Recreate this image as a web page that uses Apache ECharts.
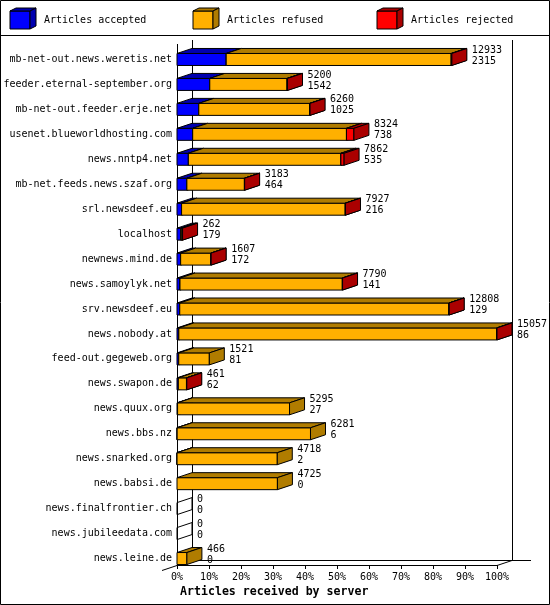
<!DOCTYPE html>
<html>
<head>
<meta charset="utf-8">
<script src="https://cdn.jsdelivr.net/npm/echarts@6/dist/echarts.min.js"></script>
<style>
html,body{margin:0;padding:0;background:#fff;}
#chart{width:550px;height:605px;}
</style>
</head>
<body>
<div id="chart"></div>
<script>
// ---- data ----
const categories = [
  'mb-net-out.news.weretis.net','feeder.eternal-september.org','mb-net-out.feeder.erje.net',
  'usenet.blueworldhosting.com','news.nntp4.net','mb-net.feeds.news.szaf.org','srl.newsdeef.eu',
  'localhost','newnews.mind.de','news.samoylyk.net','srv.newsdeef.eu','news.nobody.at',
  'feed-out.gegeweb.org','news.swapon.de','news.quux.org','news.bbs.nz','news.snarked.org',
  'news.babsi.de','news.finalfrontier.ch','news.jubileedata.com','news.leine.de'
];
const totals   = [12933,5200,6260,8324,7862,3183,7927,262,1607,7790,12808,15057,1521,461,5295,6281,4718,4725,0,0,466];
const accepted = [2315,1542,1025,738,535,464,216,179,172,141,129,86,81,62,27,6,2,0,0,0,0];
const refused  = [10588,3638,5220,7236,7177,2709,7701,60,1425,7639,12669,14961,1440,384,5268,6275,4716,4725,0,0,466];
const rejected = [30,20,15,350,150,10,10,23,10,10,10,10,0,15,0,0,0,0,0,0,0];
const seriesNames = ['Articles accepted','Articles refused','Articles rejected'];
const xTicks = [0,10,20,30,40,50,60,70,80,90,100];
const axisTitle = 'Articles received by server';

// ---- style ----
const frontColors = ['#0000ff','#ffb000','#ff0000'];
const darkColors  = ['#0000b0','#b07c00','#aa0000'];
const MONO = '"DejaVu Sans Mono", "Liberation Mono", monospace';
const DX = 15, DY = 5, HALF = 6;
const GRID = {left:177, right:53, top:47, bottom:34};

const scaleMax = Math.max.apply(null, totals);
const pct = v => v / scaleMax * 100;

const segArrays = [accepted, refused, rejected];
function segData(k){
  return categories.map((c,i)=>{
    let s = 0;
    for (let j=0;j<k;j++) s += segArrays[j][i];
    return [pct(s), pct(s + segArrays[k][i]), i];
  });
}

function makeRender(k){
  return function(params, api){
    const s = api.value(0), e = api.value(1), row = api.value(2);
    if (!(e > s)) return null;
    const p0 = api.coord([s,row]), p1 = api.coord([e,row]);
    const x0 = p0[0], x1 = p1[0], yc = p0[1];
    const yt = yc - HALF, yb = yc + HALF;
    const st = {stroke:'#000', lineWidth:1};
    return {type:'group', children:[
      {type:'polygon', shape:{points:[[x0,yt],[x1,yt],[x1,yb],[x0,yb]]}, style:Object.assign({fill:frontColors[k]},st)},
      {type:'polygon', shape:{points:[[x0,yt],[x1,yt],[x1+DX,yt-DY],[x0+DX,yt-DY]]}, style:Object.assign({fill:darkColors[k]},st)},
      {type:'polygon', shape:{points:[[x1,yt],[x1+DX,yt-DY],[x1+DX,yb-DY],[x1,yb]]}, style:Object.assign({fill:darkColors[k]},st)}
    ]};
  };
}

function renderLabel(params, api){
  const t = api.value(0), row = api.value(1);
  const p = api.coord([t,row]);
  const x1 = p[0], yc = p[1];
  const yt = yc - HALF, yb = yc + HALF;
  const children = [];
  if (!(t > 0)) {
    children.push({type:'polygon', shape:{points:[[x1,yt],[x1+DX,yt-DY],[x1+DX,yb-DY],[x1,yb]]},
      style:{fill:'none', stroke:'#000', lineWidth:1}});
  }
  children.push({type:'text', style:{
    text: totals[params.dataIndex] + '\n' + accepted[params.dataIndex],
    x: x1 + DX + 5, y: yc - 4, fill:'#000', fontSize:10, fontFamily:MONO,
    lineHeight:11, verticalAlign:'middle', align:'left'
  }});
  return {type:'group', children};
}

const series = seriesNames.map((name,k)=>({
  type:'custom', name, renderItem:makeRender(k), data:segData(k),
  encode:{x:[0,1], y:2}, z:3, silent:true
}));
series.push({
  type:'custom', name:'labels', renderItem:renderLabel,
  data: totals.map((t,i)=>[pct(t), i]), encode:{x:0, y:1}, z:4, silent:true
});

// legend graphics (3D boxes)
const legendX = [10, 193, 377];
const legendGraphics = [];
seriesNames.forEach((name,k)=>{
  const x = legendX[k], yt = 11, yb = 29, w = 20, ldx = 6, ldy = 3;
  const st = {stroke:'#000', lineWidth:1};
  legendGraphics.push({type:'polygon', shape:{points:[[x,yt],[x+w,yt],[x+w,yb],[x,yb]]}, style:Object.assign({fill:frontColors[k]},st)});
  legendGraphics.push({type:'polygon', shape:{points:[[x,yt],[x+w,yt],[x+w+ldx,yt-ldy],[x+ldx,yt-ldy]]}, style:Object.assign({fill:darkColors[k]},st)});
  legendGraphics.push({type:'polygon', shape:{points:[[x+w,yt],[x+w+ldx,yt-ldy],[x+w+ldx,yb-ldy],[x+w,yb]]}, style:Object.assign({fill:darkColors[k]},st)});
  legendGraphics.push({type:'text', style:{text:name, x:x+34, y:20, fill:'#000', fontSize:10, fontFamily:MONO, verticalAlign:'middle'}});
});

// 3D frame lines (derived from grid layout)
const fx0 = GRID.left, fx1 = 550 - GRID.right, fyB = 565, fyT = 44;
const line = (a,b,c,d)=>({type:'line', shape:{x1:a,y1:b,x2:c,y2:d}, style:{stroke:'#000', lineWidth:1}});
const frame = [
  {type:'rect', shape:{x:0.5,y:0.5,width:549,height:604}, style:{fill:'none', stroke:'#000', lineWidth:1}},
  line(0,35.5,550,35.5),
  line(fx0+0.5, fyT, fx0+0.5, fyB),
  line(fx0+DX+0.5, fyT-4, fx0+DX+0.5, fyB-DY),
  line(fx1+DX+0.5, fyT-4, fx1+DX+0.5, fyB-DY),
  line(fx0+DX, fyB-DY+0.5, fx1+DX+19, fyB-DY+0.5),
  line(fx0-DX, fyB+DY+0.5, fx0, fyB+0.5),
  line(fx1, fyB+0.5, fx1+DX, fyB-DY+0.5)
];

const chart = echarts.init(document.getElementById('chart'), null, {renderer:'canvas'});
chart.setOption({
  animation:false,
  backgroundColor:'#fff',
  title:{text:axisTitle, left:180, top:586, padding:0,
    textStyle:{fontFamily:MONO, fontWeight:'bold', fontSize:11.6, color:'#000'}},
  grid:GRID,
  xAxis:{type:'value', min:0, max:100, interval:10, offset:-6,
    axisLine:{show:true, lineStyle:{color:'#000', width:1}},
    axisTick:{show:true, length:4, lineStyle:{color:'#000'}},
    axisLabel:{color:'#000', fontFamily:MONO, fontSize:10, margin:7,
      formatter: v => (xTicks.indexOf(v) >= 0 ? v + '%' : '')},
    splitLine:{show:false}},
  yAxis:{type:'category', inverse:true, data:categories,
    axisLine:{show:false}, axisTick:{show:false},
    axisLabel:{color:'#000', fontFamily:MONO, fontSize:10, margin:5, interval:0}},
  graphic:{elements: frame.concat(legendGraphics)},
  series
});
</script>
</body>
</html>
